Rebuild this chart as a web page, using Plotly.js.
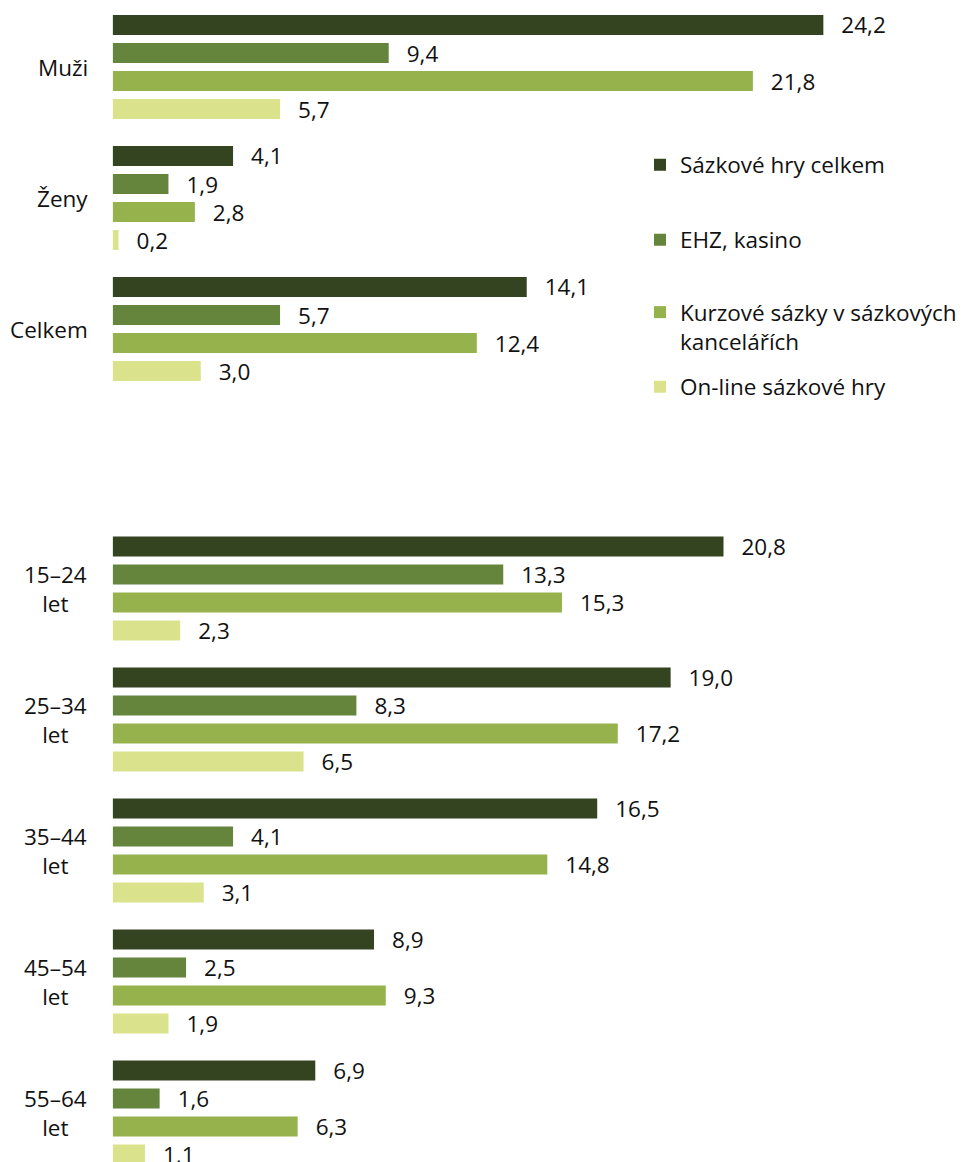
<!DOCTYPE html>
<html><head><meta charset="utf-8">
<script src="https://cdn.plot.ly/plotly-3.0.1.min.js"></script>
<style>html,body{margin:0;padding:0;overflow:hidden;background:#fff}</style>
</head><body>
<div id="chart" style="width:962px;height:1178px"></div>
<script>
const seriesNames = ['Sázkové hry celkem','EHZ, kasino','Kurzové sázky v sázkových<br>kancelářích','On-line sázkové hry'];
const colors = ['#344320','#65843c','#96b24c','#dae28b'];

const genders = ['Muži','Ženy','Celkem'];
const gTotal  = [24.2, 4.1, 14.1];
const gEhz    = [9.4, 1.9, 5.7];
const gKurz   = [21.8, 2.8, 12.4];
const gOnline = [5.7, 0.2, 3.0];

const ages = ['15–24<br>let','25–34<br>let','35–44<br>let','45–54<br>let','55–64<br>let'];
const aTotal  = [20.8, 19.0, 16.5, 8.9, 6.9];
const aEhz    = [13.3, 8.3, 4.1, 2.5, 1.6];
const aKurz   = [15.3, 17.2, 14.8, 9.3, 6.3];
const aOnline = [2.3, 6.5, 3.1, 1.9, 1.1];

const FONT = 'Open Sans, Noto Sans, sans-serif';
const FS = 22.5;
const H = 1178;

const topSeries = [gTotal, gEhz, gKurz, gOnline];
const botSeries = [aTotal, aEhz, aKurz, aOnline];
const legendIds = ['legend','legend2','legend3','legend4'];

const traces = [];
topSeries.forEach((vals, i) => {
  traces.push({
    type:'bar', orientation:'h', x: vals, y: genders, name: seriesNames[i],
    xaxis:'x', yaxis:'y', marker:{color: colors[i], line:{width:0}},
    texttemplate:'\u2002\u2009%{x:.1f}', textposition:'outside', cliponaxis:false,
    constraintext:'none', outsidetextfont:{family:FONT, size:FS, color:'#111'},
    hoverinfo:'skip', legend: legendIds[i], showlegend:true
  });
});
botSeries.forEach((vals, i) => {
  traces.push({
    type:'bar', orientation:'h', x: vals, y: ages, name: seriesNames[i],
    xaxis:'x2', yaxis:'y2', marker:{color: colors[i], line:{width:0}},
    texttemplate:'\u2002\u2009%{x:.1f}', textposition:'outside', cliponaxis:false,
    constraintext:'none', outsidetextfont:{family:FONT, size:FS, color:'#111'},
    hoverinfo:'skip', showlegend:false
  });
});

const xMax = 849/29.46;
const xax = {domain:[113/962,1], range:[0,xMax], showticklabels:false, showgrid:false, zeroline:false, showline:false, ticks:''};
const yax = {type:'category', showticklabels:false, showgrid:false, zeroline:false, showline:false, ticks:''};

const annotations = [];
genders.forEach(g => annotations.push({xref:'paper', x:90/962, xanchor:'right', yref:'y', y:g, text:g, showarrow:false, align:'center', font:{family:FONT,size:FS,color:'#111'}}));
ages.forEach(a => annotations.push({xref:'paper', x:89/962, xanchor:'right', yref:'y2', y:a, text:a, showarrow:false, align:'center', font:{family:FONT,size:FS,color:'#111'}}));

const legendYs = [165, 240, 327, 387];
const legCommon = (py, valign) => ({x:642/962, xanchor:'left', y:1-py/H, yanchor:'middle', bgcolor:'rgba(0,0,0,0)', borderwidth:0, font:{family:FONT,size:FS,color:'#111'}, valign: valign||'middle', itemclick:false, itemdoubleclick:false});

const layout = {
  width:962, height:H,
  margin:{l:0,r:0,t:0,b:0},
  paper_bgcolor:'#fff', plot_bgcolor:'#fff',
  separators:', ',
  barmode:'group', bargap:0.145, bargroupgap:0.286,
  font:{family:FONT, size:FS, color:'#111'},
  xaxis: Object.assign({anchor:'y'}, xax),
  xaxis2: Object.assign({anchor:'y2'}, xax),
  yaxis: Object.assign({anchor:'x', domain:[1-394.5/H, 1-1.5/H], range:[2.5,-0.5]}, yax),
  yaxis2: Object.assign({anchor:'x2', domain:[0, 1-523/H], range:[4.5,-0.5]}, yax),
  legend: legCommon(legendYs[0]),
  legend2: legCommon(legendYs[1]),
  legend3: legCommon(legendYs[2], 'top'),
  legend4: legCommon(legendYs[3]),
  annotations: annotations,
  showlegend:true
};

Plotly.newPlot('chart', traces, layout, {staticPlot:true, displayModeBar:false});
</script>
</body></html>
